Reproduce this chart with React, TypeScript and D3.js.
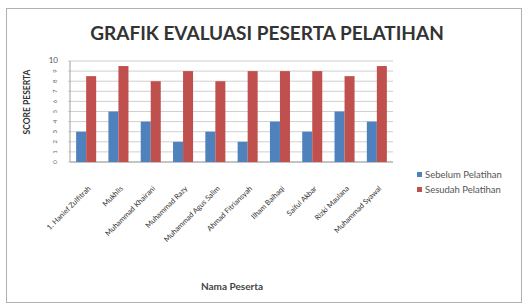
import React from "react";
import * as d3 from "d3";

const categories = [
  "1. Hanief Zulfitrah",
  "Mukhlis",
  "Muhammad Khairani",
  "Muhammad Razy",
  "Muhammad Agus Salim",
  "Ahmad Fitriansyah",
  "Ilham Baihaqi",
  "Saiful Akbar",
  "Rizki Maulana",
  "Muhammad Syawal",
];
const sebelum = [3, 5, 4, 2, 3, 2, 4, 3, 5, 4];
const sesudah = [8.5, 9.5, 8, 9, 8, 9, 9, 9, 8.5, 9.5];
const seriesNames = ["Sebelum Pelatihan", "Sesudah Pelatihan"];
const yTicks = [0, 1, 2, 3, 4, 5, 6, 7, 8, 9, 10];
const colors = ["#4F81BD", "#C0504D"];

export default function App() {
  const W = 527, H = 305;
  const left = 70, right = 393, top = 61, bottom = 162;
  const x = d3.scaleBand<string>().domain(categories).range([left, right]).paddingInner(0.38).paddingOuter(0.19);
  const xs = d3.scaleBand<number>().domain([0, 1]).range([0, x.bandwidth()]);
  const y = d3.scaleLinear().domain([0, 10]).range([bottom, top]);
  const series = [sebelum, sesudah];
  const font = "Lato, 'Open Sans', sans-serif";
  return (
    <svg width={W} height={H} style={{ position: "absolute", left: 0, top: 0 }} fontFamily={font}>
      <rect x={0} y={0} width={W} height={H} fill="#fff" />
      <rect x={6.5} y={8.5} width={515} height={294} fill="#fff" stroke="#b0b0b0" />
      <text x={267} y={40} textAnchor="middle" fontSize={19} fontWeight="bold" fill="#333">
        GRAFIK EVALUASI PESERTA PELATIHAN
      </text>
      {yTicks.map((t) => (
        <line key={"g" + t} x1={left - 2} x2={right} y1={y(t)} y2={y(t)} stroke="#d0d0d0" strokeWidth={1} />
      ))}
      <line x1={left} x2={left} y1={top} y2={bottom} stroke="#a0a0a0" />
      <line x1={left} x2={right} y1={bottom} y2={bottom} stroke="#a0a0a0" />
      {yTicks.map((t) =>
        t === 10 ? (
          <text key={"t" + t} x={58} y={y(t) + 2} textAnchor="end" fontSize={8} fill="#555">
            {t}
          </text>
        ) : (
          <text
            key={"t" + t}
            transform={`translate(57,${y(t)}) rotate(-90)`}
            textAnchor="middle"
            fontSize={6}
            fill="#666"
          >
            {t}
          </text>
        )
      )}
      {categories.map((c, i) => (
        <g key={c} transform={`translate(${x(c)},0)`}>
          {series.map((s, k) => (
            <rect
              key={k}
              x={xs(k)}
              y={y(s[i])}
              width={xs.bandwidth()}
              height={y(0) - y(s[i])}
              fill={colors[k]}
            />
          ))}
        </g>
      ))}
      {categories.map((c) => (
        <text
          key={"l" + c}
          transform={`translate(${(x(c) as number) + x.bandwidth() / 2 + 5},${bottom + 27}) rotate(-45)`}
          textAnchor="end"
          fontSize={7.4}
          fill="#333"
        >
          {c}
        </text>
      ))}
      <text
        transform={`translate(30,102) rotate(-90)`}
        textAnchor="middle"
        fontSize={8.5}
        fontWeight="bold"
        fill="#333"
      >
        SCORE PESERTA
      </text>
      <text x={232} y={290} textAnchor="middle" fontSize={10} fontWeight="bold" fill="#444">
        Nama Peserta
      </text>
      {seriesNames.map((n, k) => (
        <g key={n} transform={`translate(417,${175 + k * 15})`}>
          <rect x={0} y={-3} width={5} height={5} fill={colors[k]} />
          <text x={8} y={3} fontSize={9.5} fill="#555">
            {n}
          </text>
        </g>
      ))}
    </svg>
  );
}
